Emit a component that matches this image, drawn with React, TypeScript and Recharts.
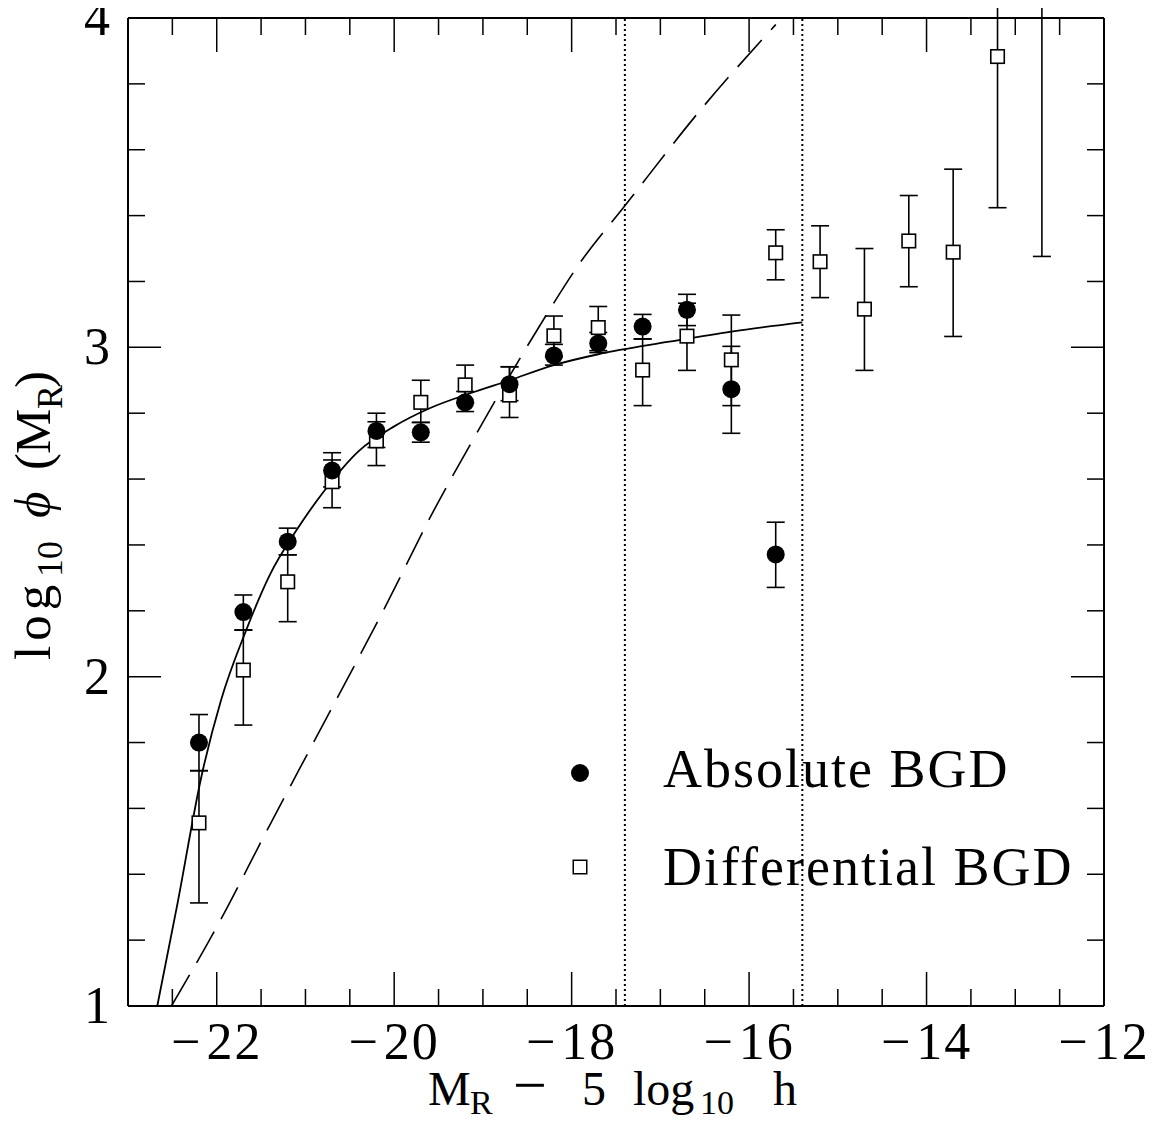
import React from "react";
import {
  ComposedChart,
  Scatter,
  Line,
  XAxis,
  YAxis,
  ErrorBar,
  ReferenceLine,
  Legend,
} from "recharts";

// Absolute BGD (filled circles)
const ABS_X = [-22.2, -21.7, -21.2, -20.7, -20.2, -19.7, -19.2, -18.7, -18.2, -17.7, -17.2, -16.7, -16.2, -15.7];
const ABS_Y = [1.8, 2.196, 2.41, 2.626, 2.746, 2.742, 2.833, 2.888, 2.975, 3.012, 3.063, 3.114, 2.873, 2.371];
const ABS_LO = [0.085, 0.055, 0.04, 0.05, 0.05, 0.03, 0.028, 0.05, 0.029, 0.028, 0.038, 0.048, 0.134, 0.1];
const ABS_HI = [0.085, 0.052, 0.041, 0.054, 0.054, 0.03, 0.033, 0.053, 0.034, 0.033, 0.037, 0.047, 0.13, 0.098];

// Differential BGD (open squares); the last one sits above the frame
const DIFF_X = [-22.2, -21.7, -21.2, -20.7, -20.2, -19.7, -19.2, -18.7, -18.2, -17.7, -17.2, -16.7, -16.2, -15.7, -15.2, -14.7, -14.2, -13.7, -13.2, -12.7];
const DIFF_Y = [1.556, 2.02, 2.288, 2.592, 2.716, 2.833, 2.886, 2.855, 3.035, 3.06, 2.931, 3.034, 2.962, 3.287, 3.26, 3.116, 3.323, 3.289, 3.883, 4.3];
const DIFF_LO = [0.243, 0.167, 0.121, 0.079, 0.075, 0.061, 0.056, 0.068, 0.065, 0.07, 0.108, 0.104, 0.139, 0.082, 0.109, 0.186, 0.139, 0.256, 0.459, 1.024];
const DIFF_HI = [0.158, 0.122, 0.082, 0.066, 0.058, 0.067, 0.06, 0.086, 0.06, 0.064, 0.095, 0.1, 0.136, 0.07, 0.109, 0.184, 0.138, 0.252, 0.3, 0.3];

// solid fit curve
const SOLID_X = [-22.67, -22.45, -22.17, -21.95, -21.67, -21.4, -21.1, -20.8, -20.4, -20.0, -19.6, -19.15, -18.7, -18.2, -17.7, -16.9, -16.2, -15.4];
const SOLID_Y = [1.0, 1.3, 1.7, 1.93, 2.14, 2.31, 2.445, 2.56, 2.685, 2.76, 2.815, 2.86, 2.9, 2.946, 2.979, 3.017, 3.048, 3.076];

// dashed curve
const DASH_X = [-22.51, -21.96, -21.44, -20.87, -20.08, -19.58, -19.07, -18.66, -18.32, -17.91, -17.4, -16.55, -15.7];
const DASH_Y = [1.0, 1.26, 1.53, 1.82, 2.223, 2.491, 2.739, 2.931, 3.083, 3.255, 3.43, 3.72, 3.98];

// dotted limits
const DOTTED_X = [-17.4, -15.4];

const X_TICKS = [-22.5, -22, -21.5, -21, -20.5, -20, -19.5, -19, -18.5, -18, -17.5, -17, -16.5, -16, -15.5, -15, -14.5, -14, -13.5, -13, -12.5, -12];
const Y_TICKS = [1, 1.2, 1.4, 1.6, 1.8, 2, 2.2, 2.4, 2.6, 2.8, 3, 3.2, 3.4, 3.6, 3.8, 4];

const W = 1154;
const H = 1114;
const SERIF = '"Liberation Serif", "DejaVu Serif", serif';
const INK = "#000";

const absData = ABS_X.map((x, i) => ({ x, y: ABS_Y[i], err: [ABS_LO[i], ABS_HI[i]] }));
const diffData = DIFF_X.map((x, i) => ({ x, y: DIFF_Y[i], err: [DIFF_LO[i], DIFF_HI[i]] }));
const solidData = SOLID_X.map((x, i) => ({ x, y: SOLID_Y[i] }));
const dashData = DASH_X.map((x, i) => ({ x, y: DASH_Y[i] }));

const isMajorX = (v: number) => Number.isInteger(v) && v % 2 === 0;

function BottomTick(props: any) {
  const { x, y, payload } = props;
  const v = payload.value as number;
  const major = isMajorX(v);
  return (
    <g>
      <line x1={x} y1={y} x2={x} y2={y - (major ? 34 : 17)} stroke={INK} strokeWidth={1.5} />
      {major && (
        <text x={x} y={y + 53} textAnchor="middle" fontFamily={SERIF} fontSize={52} fill={INK}>
          <tspan>{"\u2212"}</tspan>
          <tspan dx={6} letterSpacing={2}>{Math.abs(v)}</tspan>
        </text>
      )}
    </g>
  );
}

function TopTick(props: any) {
  const { x, y, payload } = props;
  const major = isMajorX(payload.value);
  return <line x1={x} y1={y} x2={x} y2={y + (major ? 34 : 17)} stroke={INK} strokeWidth={1.5} />;
}

function LeftTick(props: any) {
  const { x, y, payload } = props;
  const v = payload.value as number;
  const major = Number.isInteger(v);
  return (
    <g>
      <line x1={x} y1={y} x2={x + (major ? 33 : 17)} y2={y} stroke={INK} strokeWidth={1.5} />
      {major && (
        <text x={x - 18} y={y + 17} textAnchor="end" fontFamily={SERIF} fontSize={52} fill={INK}>
          {v}
        </text>
      )}
    </g>
  );
}

function RightTick(props: any) {
  const { x, y, payload } = props;
  const major = Number.isInteger(payload.value);
  return <line x1={x} y1={y} x2={x - (major ? 33 : 17)} y2={y} stroke={INK} strokeWidth={1.5} />;
}

const FilledDot = (p: any) => <circle cx={p.cx} cy={p.cy} r={9} fill={INK} />;
const OpenBox = (p: any) => (
  <rect x={p.cx - 6.75} y={p.cy - 6.75} width={13.5} height={13.5} fill="#fff" stroke={INK} strokeWidth={1.6} />
);

function LegendBox() {
  return (
    <svg width={560} height={190}>
      <circle cx={40} cy={53} r={9} fill={INK} />
      <rect x={33.25} y={140.25} width={13.5} height={13.5} fill="#fff" stroke={INK} strokeWidth={1.5} />
      <text x={123} y={67} fontFamily={SERIF} fontSize={54} letterSpacing={2} fill={INK}>
        Absolute BGD
      </text>
      <text x={123} y={165} fontFamily={SERIF} fontSize={54} letterSpacing={2} fill={INK}>
        Differential BGD
      </text>
    </svg>
  );
}

export default function App() {
  return (
    <div style={{ position: "relative", width: W, height: H }}>
      <ComposedChart width={W} height={H} margin={{ top: 9, right: 57, bottom: 56, left: 60 }}>
        <XAxis
          xAxisId={0}
          dataKey="x"
          type="number"
          domain={[-23, -12]}
          allowDataOverflow
          ticks={X_TICKS}
          interval={0}
          tickSize={0}
          tickMargin={0}
          tickLine={false}
          tick={<BottomTick />}
          axisLine={{ stroke: INK, strokeWidth: 2 }}
          height={60}
        />
        <XAxis
          xAxisId="top"
          orientation="top"
          dataKey="x"
          type="number"
          domain={[-23, -12]}
          allowDataOverflow
          ticks={X_TICKS}
          interval={0}
          tickSize={0}
          tickMargin={0}
          tickLine={false}
          tick={<TopTick />}
          axisLine={{ stroke: INK, strokeWidth: 2 }}
          height={1}
        />
        <YAxis
          yAxisId={0}
          dataKey="y"
          type="number"
          domain={[1, 4]}
          allowDataOverflow
          ticks={Y_TICKS}
          interval={0}
          tickSize={0}
          tickMargin={0}
          tickLine={false}
          tick={<LeftTick />}
          axisLine={{ stroke: INK, strokeWidth: 2 }}
          width={60}
        />
        <YAxis
          yAxisId="right"
          orientation="right"
          dataKey="y"
          type="number"
          domain={[1, 4]}
          allowDataOverflow
          ticks={Y_TICKS}
          interval={0}
          tickSize={0}
          tickMargin={0}
          tickLine={false}
          tick={<RightTick />}
          axisLine={{ stroke: INK, strokeWidth: 2 }}
          width={1}
        />
        {DOTTED_X.map((xv) => (
          <ReferenceLine key={xv} x={xv} stroke={INK} strokeWidth={2} strokeDasharray="2 3" />
        ))}
        <Line
          data={dashData}
          dataKey="y"
          type="monotone"
          dot={false}
          activeDot={false}
          stroke={INK}
          strokeWidth={1.6}
          strokeDasharray="36 14"
          isAnimationActive={false}
        />
        <Line
          data={solidData}
          dataKey="y"
          type="monotone"
          dot={false}
          activeDot={false}
          stroke={INK}
          strokeWidth={1.8}
          isAnimationActive={false}
        />
        <Scatter data={diffData} dataKey="y" shape={OpenBox} isAnimationActive={false}>
          <ErrorBar dataKey="err" direction="y" width={9} stroke={INK} strokeWidth={1.6} />
        </Scatter>
        <Scatter data={absData} dataKey="y" shape={FilledDot} isAnimationActive={false}>
          <ErrorBar dataKey="err" direction="y" width={9} stroke={INK} strokeWidth={1.6} />
        </Scatter>
        <Legend
          layout="vertical"
          align="center"
          verticalAlign="middle"
          content={() => <LegendBox />}
          wrapperStyle={{ left: 532, top: 712, width: 560, height: 190 }}
        />
      </ComposedChart>
      <svg
        width={W}
        height={H}
        style={{ position: "absolute", left: 0, top: 0, pointerEvents: "none" }}
      >
        <text y={1097} fontFamily={SERIF} fontSize={48} fill={INK}>
          <tspan x={420}>M</tspan>
          <tspan x={462} dy={9} fontSize={34}>R</tspan>
          <tspan x={505} dy={-9} fontSize={60}>{"\u2212"}</tspan>
          <tspan x={574}>5</tspan>
          <tspan x={625}>log</tspan>
          <tspan x={692} dy={9} fontSize={34}>10</tspan>
          <tspan x={765} dy={-9}>h</tspan>
        </text>
        <text transform="translate(42, 652) rotate(-90)" fontFamily={SERIF} fontSize={51} fill={INK}>
          <tspan x={0} y={0} letterSpacing={5}>log</tspan>
          <tspan x={83} y={12} fontSize={36}>10</tspan>
          <tspan x={142} y={0} fontStyle="italic">{"\u03d5"}</tspan>
          <tspan x={190} y={0}>(</tspan>
          <tspan x={206} y={0}>M</tspan>
          <tspan x={251} y={12} fontSize={36}>R</tspan>
          <tspan x={272} y={0}>)</tspan>
        </text>
      </svg>
    </div>
  );
}
